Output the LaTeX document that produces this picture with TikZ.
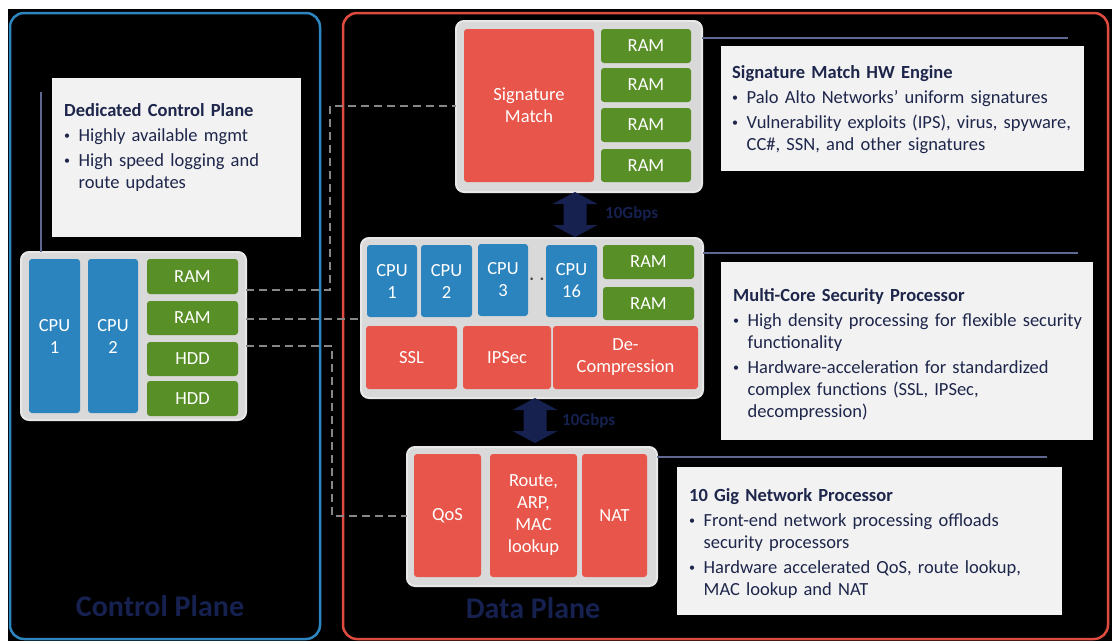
\documentclass[tikz,border=0pt]{standalone}
\usepackage{fontspec}
\setmainfont{Carlito}
\usetikzlibrary{calc}
\definecolor{cpublue}{RGB}{44,132,190}
\definecolor{ramgreen}{RGB}{88,143,39}
\definecolor{hwred}{RGB}{232,85,74}
\definecolor{chipgrey}{RGB}{217,217,217}
\definecolor{chipedge}{RGB}{232,232,232}
\definecolor{notebg}{RGB}{242,242,242}
\definecolor{navy}{RGB}{22,33,80}
\definecolor{notetext}{RGB}{30,38,75}
\definecolor{linknavy}{RGB}{95,104,145}
\definecolor{dashgrey}{RGB}{135,135,135}
\definecolor{ctrlblue}{RGB}{46,134,193}
\definecolor{datared}{RGB}{224,75,64}
\newcommand{\bitem}[1]{\par\vspace{3pt}\noindent\hangindent=14.5pt\hangafter=1\makebox[14.5pt][l]{\raisebox{1.5pt}{\fontsize{12}{12}\selectfont\textbullet}}#1\par}
\newcommand{\dblarrow}[2]{%
  \fill[navy] (#1) -- ($(#1)+(22.5,12)$) -- ($(#1)+(11.5,12)$) -- ($(#2)+(11.5,-12)$) -- ($(#2)+(22.5,-12)$) -- (#2)
   -- ($(#2)+(-22.5,-12)$) -- ($(#2)+(-11.5,-12)$) -- ($(#1)+(-11.5,12)$) -- ($(#1)+(-22.5,12)$) -- cycle;}
\begin{document}
\begin{tikzpicture}[x=1pt,y=-1pt,
  part/.style={anchor=north west, inner sep=0pt, outer sep=0pt, rounded corners=3pt, text=white, align=center, font=\fontsize{18.5}{22}\selectfont},
  cpu/.style={part, fill=cpublue},
  mem/.style={part, fill=ramgreen},
  acc/.style={part, fill=hwred},
  chip/.style={anchor=north west, inner sep=0pt, outer sep=0pt, fill=chipgrey, draw=chipedge, line width=2pt, rounded corners=8pt},
  note/.style={anchor=north west, inner sep=0pt, outer sep=0pt, fill=notebg},
  notetxt/.style={anchor=north west, inner sep=0pt, text=notetext, text width=400pt, font=\fontsize{18.5}{22}\selectfont},
  planelabel/.style={text=navy, font=\fontsize{30}{34}\selectfont\bfseries},
  speed/.style={anchor=west, inner sep=0pt, text=navy, font=\fontsize{17}{20}\selectfont\bfseries},
  link/.style={draw=linknavy, line width=2pt},
  dashlink/.style={draw=dashgrey, line width=2.8pt, dash pattern=on 8pt off 5pt}
]
\useasboundingbox (0,0) rectangle (1112,641);
\fill[white] (0,0) rectangle (1112,641);
\fill[black] (8,9) rectangle (1112,641);

% plane borders
\draw[ctrlblue, line width=2.5pt, rounded corners=14pt] (10,13) rectangle (320,639);
\draw[datared, line width=2.5pt, rounded corners=14pt] (343,13) rectangle (1108,639);

% notes
\node[note, minimum width=249pt, minimum height=159pt] (ctrlnote) at (52,78) {};
\node[note, minimum width=363pt, minimum height=125pt] (signote) at (721,46) {};
\node[note, minimum width=372pt, minimum height=178pt] (midnote) at (721,262) {};
\node[note, minimum width=385pt, minimum height=148pt] (botnote) at (677,467) {};

\node[notetxt] (ctrltxt) at (64,103) {\raggedright\textbf{Dedicated Control Plane}
  \bitem{Highly available mgmt}
  \bitem{High speed logging and\newline route updates}};
\node[notetxt] (sigtxt) at (732,65) {\raggedright\textbf{Signature Match HW Engine}
  \bitem{Palo Alto Networks’ uniform signatures}
  \bitem{Vulnerability exploits (IPS), virus, spyware,\newline CC\#, SSN, and other signatures}};
\node[notetxt] (midtxt) at (733,288) {\raggedright\textbf{Multi-Core Security Processor}
  \bitem{High density processing for flexible security\newline functionality}
  \bitem{Hardware-acceleration for standardized\newline complex functions (SSL, IPSec,\newline decompression)}};
\node[notetxt] (bottxt) at (689,488) {\raggedright\textbf{10 Gig Network Processor}
  \bitem{Front-end network processing offloads\newline security processors}
  \bitem{Hardware accelerated QoS, route lookup,\newline MAC lookup and NAT}};

% control plane chip
\node[chip, minimum width=225pt, minimum height=168pt] (ctrl) at (21,252) {};
\node[cpu, minimum width=51pt, minimum height=154pt] (cc1) at (29,259) {CPU\\1};
\node[cpu, minimum width=50pt, minimum height=154pt] (cc2) at (88,259) {CPU\\2};
\node[mem, minimum width=91pt, minimum height=35pt] (cra) at (147,259) {RAM};
\node[mem, minimum width=91pt, minimum height=34pt] (crb) at (147,301) {RAM};
\node[mem, minimum width=91pt, minimum height=34pt] (cha) at (147,342) {HDD};
\node[mem, minimum width=91pt, minimum height=35pt] (chb) at (147,381) {HDD};

% signature match chip
\node[chip, minimum width=246pt, minimum height=171pt] (sigchip) at (456,21) {};
\node[acc, minimum width=130pt, minimum height=153pt] (sig) at (464,29) {Signature\\Match};
\node[mem, minimum width=90pt, minimum height=34pt] (sra) at (601,29) {RAM};
\node[mem, minimum width=90pt, minimum height=34pt] (srb) at (601,68) {RAM};
\node[mem, minimum width=90pt, minimum height=34pt] (src) at (601,108) {RAM};
\node[mem, minimum width=90pt, minimum height=33pt] (srd) at (601,149) {RAM};

% security processor chip
\node[chip, minimum width=342pt, minimum height=160pt] (mid) at (361,238) {};
\node[cpu, minimum width=50pt, minimum height=72pt] (m1) at (367,245) {CPU\\1};
\node[cpu, minimum width=51pt, minimum height=72pt] (m2) at (421,245) {CPU\\2};
\node[cpu, minimum width=50pt, minimum height=72pt] (m3) at (478,244) {CPU\\3};
\node[cpu, minimum width=51pt, minimum height=72pt] (m16) at (546,245) {CPU\\16};
\node[inner sep=0pt, text=black!70, font=\fontsize{18}{20}\selectfont\bfseries] (dots) at (537,279) {. .};
\node[mem, minimum width=91pt, minimum height=34pt] (mra) at (603,245) {RAM};
\node[mem, minimum width=91pt, minimum height=33pt] (mrb) at (603,287) {RAM};
\node[acc, minimum width=91pt, minimum height=63pt] (ssl) at (366,326) {SSL};
\node[acc, minimum width=88pt, minimum height=63pt] (ipsec) at (463,326) {IPSec};
\node[acc, minimum width=145pt, minimum height=63pt] (decomp) at (553,326) {De-\\Compression};

% network processor chip
\node[chip, minimum width=250pt, minimum height=139pt] (bot) at (407,447) {};
\node[acc, minimum width=67pt, minimum height=123pt] (qos) at (414,454) {QoS};
\node[acc, minimum width=87pt, minimum height=123pt] (route) at (490,454) {Route,\\ARP,\\MAC\\lookup};
\node[acc, minimum width=65pt, minimum height=123pt] (nat) at (582,454) {NAT};

% links to notes
\coordinate (l1) at (1068,38);
\coordinate (l2) at (1078,253);
\coordinate (l3) at (1047,457);
\coordinate (l4) at (41,92);
\draw[link] (sigchip.east |- l1) -- (l1);
\draw[link] (mid.east |- l2) -- (l2);
\draw[link] (bot.east |- l3) -- (l3);
\draw[link] (l4) -- (ctrl.north -| l4);

% 10Gbps arrows
\coordinate (a1t) at (575,192);
\coordinate (a1b) at (575,237);
\coordinate (a2t) at (535,398);
\coordinate (a2b) at (535,443);
\dblarrow{a1t}{a1b}
\dblarrow{a2t}{a2b}
\node[speed] (lab1) at (605,214) {10Gbps};
\node[speed] (lab2) at (562,421) {10Gbps};

% dashed control links
\coordinate (b1) at (330,290);
\coordinate (b1t) at (330,106);
\coordinate (b2) at (250,319);
\coordinate (b3) at (332,346);
\coordinate (b3b) at (332,516);
\draw[dashlink] (ctrl.east |- b1) -- (b1) -- (b1t) -- (sigchip.west |- b1t);
\draw[dashlink] (ctrl.east |- b2) -- (mid.west |- b2);
\draw[dashlink] (ctrl.east |- b3) -- (b3) -- (b3b) -- (bot.west |- b3b);

% plane labels
\node[planelabel] (cplabel) at (160,606) {Control Plane};
\node[planelabel] (dplabel) at (533,608) {Data Plane};
\end{tikzpicture}
\end{document}
